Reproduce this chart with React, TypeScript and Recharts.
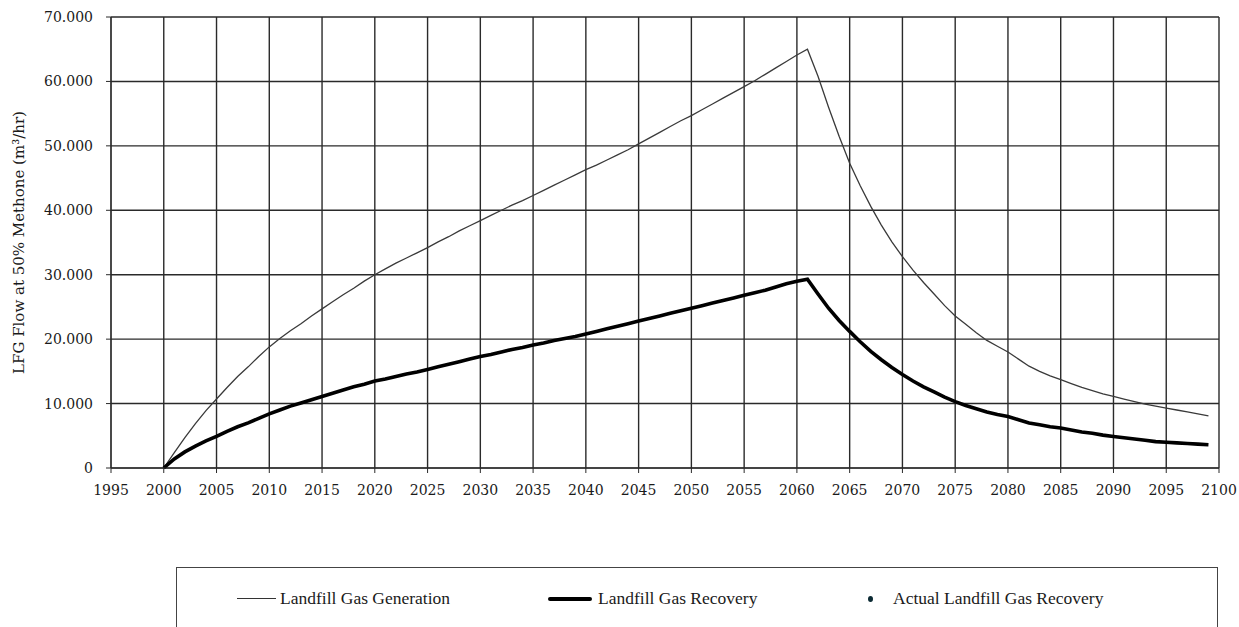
import { LineChart, Line, XAxis, YAxis, CartesianGrid, Label } from 'recharts';

// years 2000..2099
const years = Array.from({ length: 100 }, (_, i) => 2000 + i);

// values in thousands of m3/hr
const generation = [
  0, 2.4, 4.7, 6.9, 8.9, 10.7, 12.5, 14.2, 15.7, 17.3,
  18.8, 20.1, 21.3, 22.4, 23.6, 24.7, 25.8, 26.9, 27.9, 29.0,
  30.0, 30.9, 31.8, 32.6, 33.4, 34.2, 35.1, 35.9, 36.8, 37.6,
  38.4, 39.2, 40.0, 40.8, 41.5, 42.3, 43.1, 43.9, 44.7, 45.5,
  46.3, 47.0, 47.8, 48.6, 49.4, 50.3, 51.2, 52.1, 53.0, 53.9,
  54.7, 55.6, 56.5, 57.4, 58.3, 59.2, 60.1, 61.1, 62.1, 63.1,
  64.1, 65.0, 60.8, 56.0, 51.5, 47.3, 43.8, 40.6, 37.7, 35.1,
  32.8, 30.7, 28.8, 27.0, 25.2, 23.6, 22.3, 21.0, 19.8, 18.9,
  18.0, 16.9, 15.8, 15.0, 14.3, 13.7, 13.1, 12.5, 12.0, 11.5,
  11.1, 10.7, 10.3, 9.9, 9.6, 9.3, 9.0, 8.7, 8.4, 8.1,
];

const recovery = [
  0, 1.4, 2.5, 3.4, 4.2, 4.9, 5.7, 6.4, 7.0, 7.7,
  8.4, 9.0, 9.6, 10.1, 10.6, 11.1, 11.6, 12.1, 12.6, 13.0,
  13.5, 13.8, 14.2, 14.6, 14.9, 15.3, 15.7, 16.1, 16.5, 16.9,
  17.3, 17.6, 18.0, 18.4, 18.7, 19.1, 19.4, 19.8, 20.1, 20.4,
  20.8, 21.2, 21.6, 22.0, 22.4, 22.8, 23.2, 23.6, 24.0, 24.4,
  24.8, 25.2, 25.6, 26.0, 26.4, 26.8, 27.2, 27.6, 28.1, 28.6,
  29.0, 29.3, 27.0, 24.8, 22.9, 21.2, 19.6, 18.1, 16.8, 15.6,
  14.5, 13.5, 12.6, 11.8, 11.0, 10.3, 9.7, 9.2, 8.7, 8.3,
  8.0, 7.5, 7.0, 6.7, 6.4, 6.2, 5.9, 5.6, 5.4, 5.1,
  4.9, 4.7, 4.5, 4.3, 4.1, 4.0, 3.9, 3.8, 3.7, 3.6,
];

const xTicks = [1995, 2000, 2005, 2010, 2015, 2020, 2025, 2030, 2035, 2040, 2045, 2050,
  2055, 2060, 2065, 2070, 2075, 2080, 2085, 2090, 2095, 2100];
const yTicks = [0, 10, 20, 30, 40, 50, 60, 70];

const data = years.map((year, i) => ({
  year,
  generation: generation[i],
  recovery: recovery[i],
}));

const FONT = '"DejaVu Serif", serif';
const LEGEND_FONT = '"Liberation Serif", "DejaVu Serif", serif';
const fmtY = (v: number) => (v === 0 ? '0' : `${v}.000`);

export default function App() {
  return (
    <div style={{ position: 'absolute', left: 0, top: 0, width: 1239, height: 627, background: '#fff', overflow: 'hidden' }}>
      <LineChart
        width={1239}
        height={627}
        data={data}
        margin={{ top: 17, right: 20, left: 11, bottom: 129 }}
      >
        <CartesianGrid stroke="#2a2a2a" strokeWidth={1.4} />
        <XAxis
          dataKey="year"
          type="number"
          domain={[1995, 2100]}
          ticks={xTicks}
          interval={0}
          height={30}
          tickSize={5}
          tickMargin={12}
          stroke="#2a2a2a"
          tick={{ fontSize: 14, fill: '#1a1a1a', fontFamily: FONT }}
        />
        <YAxis
          domain={[0, 70]}
          ticks={yTicks}
          interval={0}
          width={100}
          tickSize={5}
          tickMargin={13}
          stroke="#2a2a2a"
          tickFormatter={fmtY}
          tick={{ fontSize: 14, fill: '#1a1a1a', fontFamily: FONT }}
        >
          <Label
            value="LFG Flow at 50% Methone (m³/hr)"
            angle={-90}
            position="insideLeft"
            offset={8}
            style={{ textAnchor: 'middle', fontSize: 15, fill: '#1a1a1a', fontFamily: FONT }}
          />
        </YAxis>
        <Line
          type="linear"
          dataKey="generation"
          stroke="#3a3a3a"
          strokeWidth={1.3}
          dot={false}
          isAnimationActive={false}
        />
        <Line
          type="linear"
          dataKey="recovery"
          stroke="#000"
          strokeWidth={3.6}
          dot={false}
          isAnimationActive={false}
        />
      </LineChart>
      <div
        style={{
          position: 'absolute',
          left: 176,
          top: 567,
          width: 1040,
          height: 80,
          border: '1px solid #444',
          fontFamily: LEGEND_FONT,
          fontSize: 17.5,
          color: '#1a1a1a',
        }}
      >
        <div style={{ position: 'absolute', left: 60, top: 20, display: 'flex', alignItems: 'center' }}>
          <span style={{ width: 39, height: 0, borderTop: '1.3px solid #333', marginRight: 4 }} />
          Landfill Gas Generation
        </div>
        <div style={{ position: 'absolute', left: 371, top: 20, display: 'flex', alignItems: 'center' }}>
          <span style={{ width: 44, height: 4, background: '#000', borderRadius: 2, marginRight: 6 }} />
          Landfill Gas Recovery
        </div>
        <div style={{ position: 'absolute', left: 691, top: 20, display: 'flex', alignItems: 'center' }}>
          <span style={{ width: 5, height: 6, background: '#0b2a33', borderRadius: '50%', marginRight: 20 }} />
          Actual Landfill Gas Recovery
        </div>
      </div>
    </div>
  );
}
